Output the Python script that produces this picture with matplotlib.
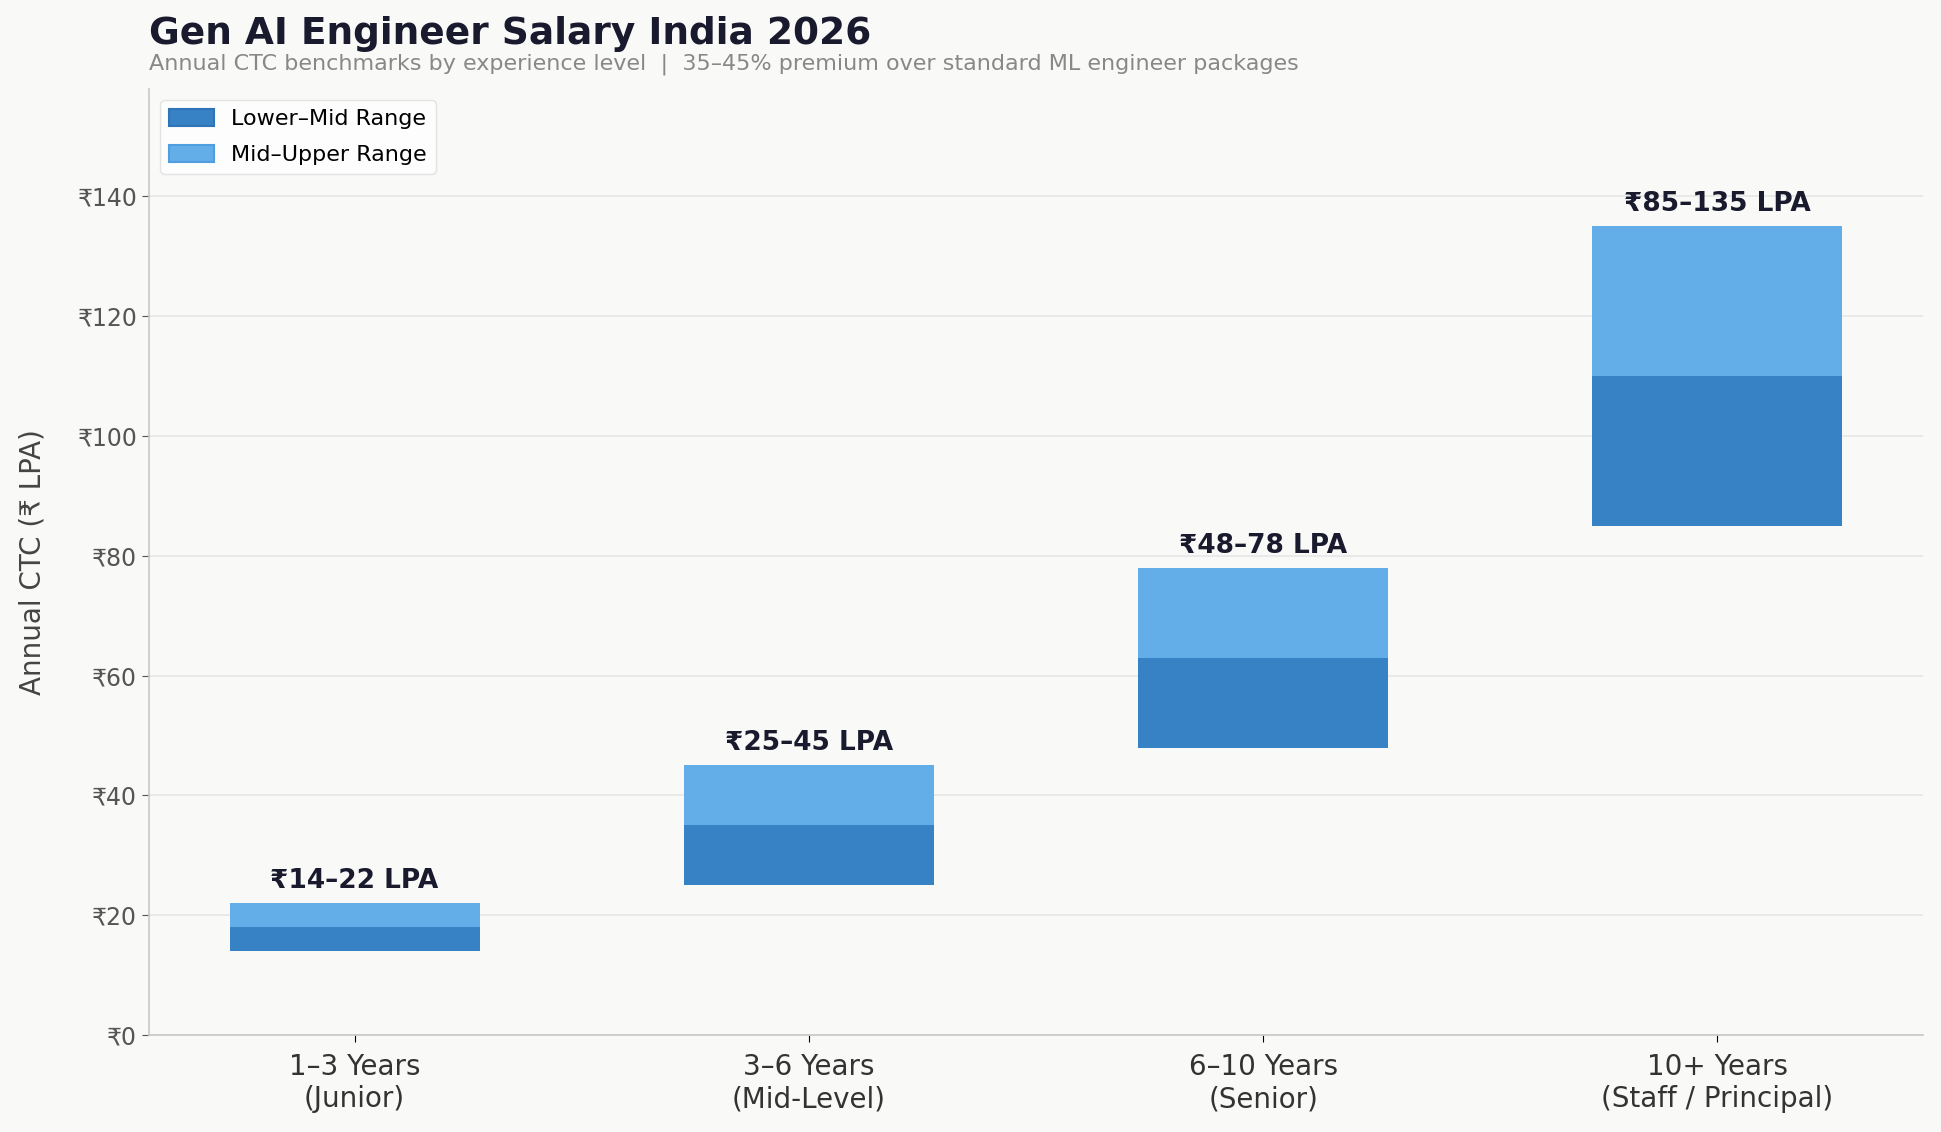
import numpy as np
import matplotlib.pyplot as plt

levels = ["1–3 Years\n(Junior)", "3–6 Years\n(Mid-Level)", "6–10 Years\n(Senior)", "10+ Years\n(Staff / Principal)"]
low = [14, 25, 48, 85]
mid = [18, 35, 63, 110]
high = [22, 45, 78, 135]
yticks = [0, 20, 40, 60, 80, 100, 120, 140]

bg = "#f9f9f8"
dark = "#1a1a2e"

fig = plt.figure(figsize=(19.41, 11.32), dpi=100, facecolor=bg)
ax = fig.add_axes([0.0768, 0.0857, 0.9139, 0.8357])
ax.set_facecolor(bg)

x = np.arange(len(levels))
lower_h = np.array(mid) - np.array(low)
upper_h = np.array(high) - np.array(mid)
ax.bar(x, lower_h, bottom=low, width=0.55, color="#3781c5", label="Lower–Mid Range", zorder=3)
ax.bar(x, upper_h, bottom=mid, width=0.55, color="#63ade9", label="Mid–Upper Range", zorder=3)

for i in range(len(levels)):
    ax.text(x[i], high[i] + 1.5, f"₹{low[i]}–{high[i]} LPA", ha="center", va="bottom",
            fontsize=19, fontweight="bold", color=dark)

ax.set_ylim(0, max(high) * 1.17)
ax.set_yticks(yticks)
ax.set_yticklabels([f"₹{v}" for v in yticks], fontsize=17, color="#555555")
ax.set_xticks(x)
ax.set_xticklabels(levels, fontsize=20, color="#333333")
ax.set_ylabel("Annual CTC (₹ LPA)", fontsize=20, color="#444444", labelpad=22)

ax.grid(axis="y", color="#e6e6e6", linewidth=1.2, zorder=0)
ax.set_axisbelow(True)
for s in ["top", "right"]:
    ax.spines[s].set_visible(False)
for s in ["left", "bottom"]:
    ax.spines[s].set_color("#c8c8c8")
    ax.spines[s].set_linewidth(1.2)
ax.tick_params(axis="y", colors="#555555", length=5)
ax.tick_params(axis="x", length=5, pad=8)

leg = ax.legend(loc="upper left", fontsize=16, frameon=True, facecolor="white",
                edgecolor="#dddddd", labelspacing=0.7, handleheight=0.8)
for h, c in zip(leg.legend_handles, ["#2f74b8", "#4f9fe0"]):
    h.set_edgecolor(c)
    h.set_linewidth(1.5)

fig.text(0.0768, 0.970, "Gen AI Engineer Salary India 2026", fontsize=27, fontweight="bold",
         color=dark, ha="left", va="center")
fig.text(0.0768, 0.9435, "Annual CTC benchmarks by experience level  |  35–45% premium over standard ML engineer packages",
         fontsize=16, color="#888888", ha="left", va="center")

fig.savefig("out.png", dpi=100, facecolor=bg)
